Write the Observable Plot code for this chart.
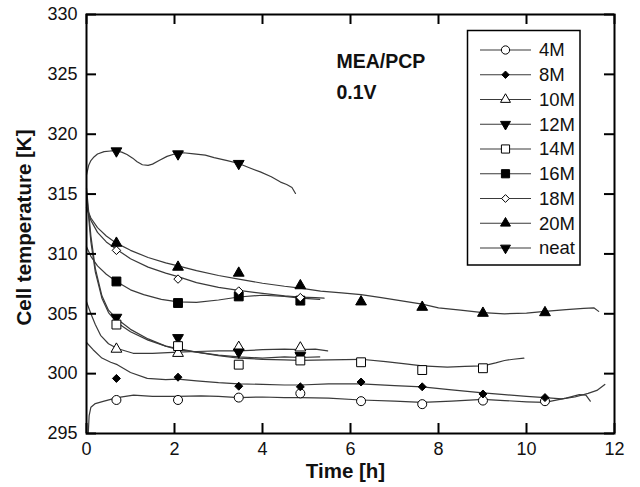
<!DOCTYPE html>
<html><head><meta charset="utf-8">
<script src="https://cdn.jsdelivr.net/npm/d3@7"></script>
<script src="https://cdn.jsdelivr.net/npm/@observablehq/plot@0.6"></script>
<style>
html,body{margin:0;padding:0;background:#fff;}
#chart{position:relative;width:640px;height:487px;font-family:"Liberation Sans",Arial,sans-serif;}
#chart svg{display:block}
#legend{position:absolute;left:0;top:0;pointer-events:none;}
</style></head><body><div id="chart"></div>
<script>
// ---------- data ----------
const seriesNames = ["4M","8M","10M","12M","14M","16M","18M","20M","neat"];
const xTicks = [0,2,4,6,8,10,12];
const yTicks = [295,300,305,310,315,320,325,330];
const markerTimes = [0.68,2.08,3.46,4.86,6.24,7.63,9.01,10.42];

const markers4M  = [297.8,297.8,298.0,298.35,297.7,297.45,297.75,297.7];
const markers8M  = [299.6,299.7,298.95,298.9,299.3,298.9,298.3,298.0];
const markers10M = [302.05,301.7,302.2,302.15];
const markers12M = [304.7,303.0,301.8,301.5];
const markers14M = [304.1,302.3,300.75,301.1,300.95,300.3,300.45];
const markers16M = [307.7,305.9,306.45,306.1];
const markers18M = [310.3,307.9,306.9,306.35];
const markers20M = [310.9,308.9,308.4,307.35,306.0,305.55,305.05,305.1];
const markersNeat = [318.6,318.35,317.55];

const line4M = [[0.04,295.0],[0.06,296.5],[0.1,297.2],[0.2,297.5],[0.4,297.7],[0.7,298.0],[1.07,298.2],[1.5,298.1],[2.08,298.1],[2.6,298.15],[3.0,298.1],[3.46,298.0],[4.0,298.05],[4.5,298.0],[4.86,298.0],[5.5,297.95],[6.24,297.8],[7.0,297.7],[7.63,297.6],[8.3,297.7],[9.01,297.85],[9.5,297.75],[10.0,297.65],[10.42,297.6],[10.9,297.95],[11.2,298.25],[11.35,298.2],[11.45,297.7]];
const line8M = [[0,302.6],[0.15,302.0],[0.35,301.3],[0.55,300.95],[0.7,300.75],[1.0,300.1],[1.38,299.6],[1.8,299.5],[2.08,299.55],[2.5,299.4],[3.0,299.25],[3.46,299.15],[4.0,299.1],[4.5,299.05],[4.86,299.05],[5.5,299.15],[6.24,299.15],[7.0,299.0],[7.63,298.9],[8.3,298.65],[9.01,298.4],[9.5,298.25],[10.0,298.1],[10.42,298.0],[10.8,297.9],[11.1,298.05],[11.4,298.35],[11.6,298.6],[11.78,299.1]];
const line10M = [[0,306.0],[0.1,305.0],[0.2,304.1],[0.32,303.2],[0.5,302.5],[0.7,302.1],[1.06,301.7],[1.5,301.7],[2.08,301.8],[2.5,301.85],[3.0,301.9],[3.46,301.9],[4.0,302.0],[4.5,302.05],[4.86,302.0],[5.2,302.05],[5.48,301.9]];
const line12M = [[0,315.5],[0.05,313.5],[0.1,311.5],[0.2,308.8],[0.35,306.5],[0.5,305.3],[0.68,304.6],[1.0,303.7],[1.4,302.9],[1.8,302.3],[2.08,302.0],[2.5,301.8],[3.0,301.55],[3.46,301.4],[4.0,301.3],[4.5,301.4],[4.86,301.35],[5.3,301.4]];
const line14M = [[0,315.2],[0.05,313.0],[0.1,311.0],[0.2,308.5],[0.35,306.3],[0.5,305.1],[0.68,304.3],[1.0,303.5],[1.4,302.8],[1.8,302.3],[2.08,302.1],[2.5,301.8],[3.0,301.5],[3.46,301.3],[4.0,301.2],[4.5,301.15],[4.86,301.1],[5.5,301.15],[6.24,301.2],[6.8,301.0],[7.3,300.8],[7.63,300.65],[8.2,300.55],[8.6,300.6],[9.01,300.65],[9.3,300.9],[9.5,301.1],[9.7,301.2],[9.94,301.3]];
const line16M = [[0,310.6],[0.1,309.8],[0.25,309.0],[0.45,308.3],[0.68,307.7],[1.0,307.0],[1.3,306.6],[1.7,306.2],[2.08,306.0],[2.5,305.95],[3.0,306.15],[3.46,306.4],[4.0,306.55],[4.5,306.45],[4.86,306.3],[5.3,306.2]];
const line18M = [[0,313.9],[0.1,312.8],[0.25,311.8],[0.45,311.0],[0.68,310.4],[1.0,309.6],[1.4,308.9],[1.8,308.4],[2.08,308.1],[2.5,307.6],[3.0,307.2],[3.46,306.95],[4.0,306.7],[4.5,306.5],[4.86,306.4],[5.2,306.35],[5.4,306.3]];
const line20M = [[0,313.9],[0.1,313.0],[0.25,312.2],[0.45,311.5],[0.68,310.9],[1.0,310.3],[1.4,309.7],[1.8,309.25],[2.08,309.0],[2.5,308.6],[3.0,308.2],[3.46,307.9],[4.0,307.55],[4.5,307.3],[4.86,307.15],[5.32,306.9],[5.8,306.75],[6.24,306.6],[6.7,306.35],[7.2,306.05],[7.63,305.8],[8.0,305.5],[8.5,305.3],[9.01,305.1],[9.5,305.0],[10.0,305.05],[10.42,305.2],[10.9,305.35],[11.3,305.45],[11.53,305.5],[11.64,305.2]];
const lineNeat = [[0,316.6],[0.05,317.4],[0.1,317.8],[0.17,318.1],[0.25,318.35],[0.4,318.55],[0.55,318.6],[0.68,318.6],[0.8,318.5],[0.92,318.3],[1.05,318.0],[1.15,317.7],[1.27,317.45],[1.4,317.4],[1.5,317.5],[1.65,317.8],[1.83,318.15],[2.0,318.35],[2.2,318.45],[2.44,318.35],[2.7,318.25],[2.9,318.05],[3.2,317.8],[3.46,317.55],[3.7,317.2],[3.95,316.85],[4.2,316.45],[4.41,316.0],[4.55,315.8],[4.67,315.55],[4.75,315.05]];

// ---------- symbols ----------
const triangleDown = {
  draw(context, size) {
    const y = -Math.sqrt(size / (Math.sqrt(3) * 3));
    context.moveTo(0, -2 * y);
    context.lineTo(-Math.sqrt(3) * y, y);
    context.lineTo(Math.sqrt(3) * y, y);
    context.closePath();
  }
};
const symbolOf = {circle: d3.symbolCircle, diamond2: d3.symbolDiamond2, triangle: d3.symbolTriangle, square: d3.symbolSquare, down: triangleDown};
const styles = {
  "4M":  {sym:"circle",  filled:false, r:4.5},
  "8M":  {sym:"diamond2",filled:true,  r:3.6},
  "10M": {sym:"triangle",filled:false, r:4},
  "12M": {sym:"down",    filled:true,  r:4},
  "14M": {sym:"square",  filled:false, r:5},
  "16M": {sym:"square",  filled:true,  r:5},
  "18M": {sym:"diamond2",filled:false, r:3.8},
  "20M": {sym:"triangle",filled:true,  r:4},
  "neat":{sym:"down",    filled:true,  r:4}
};
const lines = [line4M,line8M,line10M,line12M,line14M,line16M,line18M,line20M,lineNeat];
const markerVals = [markers4M,markers8M,markers10M,markers12M,markers14M,markers16M,markers18M,markers20M,markersNeat];

const LINE = "#3a3a3a";
const W = 640, H = 487, mT = 14, mR = 26, mB = 54, mL = 86;
const plotW = W - mL - mR, plotH = H - mT - mB;
const FONT = '"Liberation Sans", Arial, sans-serif';

const marks = [];
lines.forEach(l => marks.push(Plot.line(l, {x: d => d[0], y: d => d[1], stroke: LINE, strokeWidth: 1.2})));
seriesNames.forEach((name, i) => {
  const st = styles[name];
  const pts = markerVals[i].map((v, j) => ({t: markerTimes[j], v}));
  marks.push(Plot.dot(pts, {x: "t", y: "v", symbol: symbolOf[st.sym], r: st.r,
    fill: st.filled ? "black" : "white", stroke: "black", strokeWidth: 1}));
});
// ticks (inward, all four sides)
marks.push(
  Plot.ruleX(xTicks, {x: d => d, insetTop: plotH - 10, stroke: "black", strokeWidth: 2}),
  Plot.ruleX(xTicks, {x: d => d, insetBottom: plotH - 10, stroke: "black", strokeWidth: 2}),
  Plot.ruleY(yTicks, {y: d => d, insetRight: plotW - 10, stroke: "black", strokeWidth: 2}),
  Plot.ruleY(yTicks, {y: d => d, insetLeft: plotW - 10, stroke: "black", strokeWidth: 2}),
  Plot.frame({stroke: "black", strokeWidth: 2}),
  Plot.axisX(xTicks, {tickSize: 0, tickPadding: 9, label: null, fontSize: 18, fill: "#111"}),
  Plot.axisY(yTicks, {tickSize: 0, tickPadding: 9, label: null, fontSize: 18, fill: "#111"}),
  Plot.text(["Time [h]"], {text: d => d, frameAnchor: "bottom", dy: 44, dx: -5, textAnchor: "middle", lineAnchor: "bottom", fontSize: 20.5, fontWeight: "bold", fill: "#111"}),
  Plot.text(["MEA/PCP"], {text: d => d, frameAnchor: "top-left", dx: 250, dy: 53, textAnchor: "start", lineAnchor: "bottom", fontSize: 19.5, fontWeight: "bold", fill: "#111"}),
  Plot.text(["0.1V"], {text: d => d, frameAnchor: "top-left", dx: 250, dy: 84, textAnchor: "start", lineAnchor: "bottom", fontSize: 19.5, fontWeight: "bold", fill: "#111"})
);

const chart = Plot.plot({
  width: W, height: H,
  marginTop: mT, marginRight: mR, marginBottom: mB, marginLeft: mL,
  x: {domain: [0, 12]},
  y: {domain: [295, 330]},
  style: {fontFamily: FONT, fontSize: "18px", background: "white", overflow: "visible"},
  marks
});
const host = document.getElementById("chart");
host.appendChild(chart);

// ---------- overlay: y-axis title and legend ----------
const leg = d3.select(host).append("svg").attr("id", "legend").attr("width", W).attr("height", H);
leg.append("text")
  .attr("transform", `translate(31,${mT + plotH / 2 + 4}) rotate(-90)`)
  .attr("text-anchor", "middle")
  .attr("font-family", FONT).attr("font-size", 20.5).attr("font-weight", "bold").attr("fill", "#111")
  .text("Cell temperature [K]");

leg.append("rect").attr("x", 467.5).attr("y", 30.5).attr("width", 112.5).attr("height", 234.5)
  .attr("fill", "white").attr("stroke", "black").attr("stroke-width", 1.5);
seriesNames.forEach((name, i) => {
  const st = styles[name];
  const y = 50 + i * 24.75;
  const g = leg.append("g").attr("transform", `translate(0,${y})`);
  g.append("line").attr("x1", 480).attr("x2", 531).attr("y1", 0).attr("y2", 0).attr("stroke", LINE).attr("stroke-width", 1.2);
  g.append("path").attr("transform", "translate(505.5,0)")
    .attr("d", d3.symbol(symbolOf[st.sym], Math.PI * st.r * st.r * 0.85)())
    .attr("fill", st.filled ? "black" : "white").attr("stroke", "black").attr("stroke-width", 1);
  g.append("text").attr("x", 539).attr("y", 0).attr("dy", "0.35em")
    .attr("font-family", FONT).attr("font-size", 18.5).attr("fill", "#111").text(name);
});
</script></body></html>
